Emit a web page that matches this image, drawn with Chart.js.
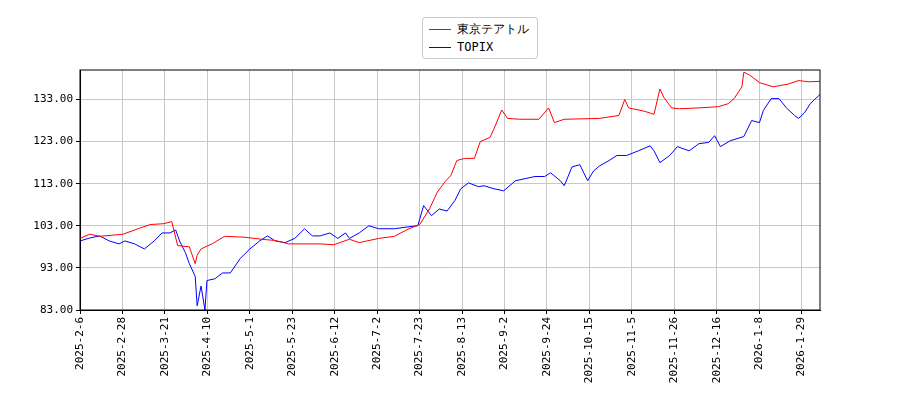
<!DOCTYPE html>
<html><head><meta charset="utf-8">
<script src="https://cdn.jsdelivr.net/npm/chart.js@4/dist/chart.umd.min.js"></script>
<style>
body{margin:0;background:#fff;}
#wrap{position:relative;width:900px;height:400px;}
#legend{position:absolute;left:422px;top:17px;border:1px solid #ccc;border-radius:3px;padding:2px 8px 2px 6px;font:12px "DejaVu Sans Mono",monospace;line-height:18px;background:#fff;}
#legend span.l{display:inline-block;width:22px;height:0;border-top:1.5px solid;vertical-align:middle;margin-right:6px;}
</style></head>
<body><div id="wrap"><canvas id="c" width="900" height="400"></canvas>
<div id="legend"><div><span class="l" style="border-color:#f00"></span>東京テアトル</div><div><span class="l" style="border-color:#00f"></span>TOPIX</div></div></div>
<script>
// x in calendar-ish units from 2025-2-6
const xTickLabels = ['2025-2-6','2025-2-28','2025-3-21','2025-4-10','2025-5-1','2025-5-23','2025-6-12','2025-7-2','2025-7-23','2025-8-13','2025-9-2','2025-9-24','2025-10-15','2025-11-5','2025-11-26','2025-12-16','2026-1-8','2026-1-29'];
const yTicks = [83, 93, 103, 113, 123, 133];

const theatreX = [0,5,10,22,31,36,43,47,50,56,59,60,62,68,74,84,93,100,107,123,130,138,143,153,161,168,174,179,183,187,190,193,197,202,205,210,212,216,219,225,235,240,243,248,266,276,279,281,289,294,297,299,303,307,317,327,332,335,339,340,343,348,355,363,368,373,379];
const theatreY = [100,101,100.5,101,102.5,103.3,103.5,104,98.3,98,94,96,97.5,98.8,100.5,100.3,99.8,99.5,98.7,98.7,98.5,99.8,99,100,100.5,102.2,103.3,107,111,113.5,115,118.5,119,119,123,124,126,130.5,128.5,128.3,128.3,131,127.5,128.3,128.5,129.2,133,131,130.2,129.5,135.5,133.5,131,130.8,131,131.3,132,133.2,136,139.5,138.8,137,136,136.7,137.5,137.2,137.3];

const topixX = [0,5,10,15,20,23,28,33,38,42,46,49,51,54,56,59,60,62,64,65,69,73,77,82,87,92,96,100,105,110,115,119,123,128,132,136,138,143,148,153,161,169,173,176,180,184,188,192,195,199,204,207,212,217,223,228,233,238,241,246,248,252,256,260,263,266,271,275,280,286,292,294,297,302,306,312,317,322,325,328,333,340,344,348,350,354,358,362,366,368,371,374,379];
const topixY = [99.4,100.1,100.6,99.4,98.7,99.4,98.7,97.5,99.4,101.3,101.3,102,99.4,96.6,94,91,84,88.7,83,90,90.4,91.8,91.8,95.2,97.5,99.4,100.6,99.4,99,100,102.3,100.6,100.6,101.3,100,101.3,100,101.3,103,102.3,102.3,102.8,103,107.8,105.4,107,106.5,109,111.8,113.2,112.3,112.5,111.8,111.3,113.7,114.2,114.7,114.7,115.6,113.7,112.5,117,117.5,113.7,116,117.2,118.5,119.7,119.7,120.8,122,120.8,118,119.7,121.8,120.8,122.5,122.8,124.4,121.8,123.2,124.2,128,127.5,130.4,133.2,133.2,130.9,129.2,128.5,129.8,132,134.2];

const tickStep = 21.74;
const pts = (xs, ys) => xs.map((x, i) => ({ x: x, y: ys[i] }));
const font = { family: 'DejaVu Sans Mono', size: 11 };

new Chart(document.getElementById('c'), {
    type: 'line',
    data: {
        datasets: [
            { label: '東京テアトル', data: pts(theatreX, theatreY), borderColor: '#f00', borderWidth: 1, pointRadius: 0, tension: 0 },
            { label: 'TOPIX', data: pts(topixX, topixY), borderColor: '#00f', borderWidth: 1, pointRadius: 0, tension: 0 }
        ]
    },
    options: {
        responsive: false,
        animation: false,
        layout: { padding: { top: 70, right: 80 } },
        plugins: { legend: { display: false }, tooltip: { enabled: false } },
        scales: {
            x: {
                type: 'linear', min: 0, max: 379,
                afterBuildTicks: ax => { ax.ticks = xTickLabels.map((l, i) => ({ value: i * tickStep })); },
                afterFit: ax => { ax.height = 90; },
                ticks: { color: '#000', font: font, maxRotation: 90, minRotation: 90, autoSkip: false,
                    callback: (v, i) => xTickLabels[i] },
                grid: { color: '#c8c8c8', drawTicks: true, tickLength: 4, tickColor: '#000' },
                border: { color: '#000' }
            },
            y: {
                min: 83, max: 140,
                afterBuildTicks: ax => { ax.ticks = yTicks.map(v => ({ value: v })); },
                afterFit: ax => { ax.width = 80; },
                ticks: { color: '#000', font: font, callback: v => v.toFixed(2) },
                grid: { color: '#c8c8c8', tickLength: 4, tickColor: '#000' },
                border: { color: '#000' }
            }
        }
    },
    plugins: [{
        id: 'frame',
        afterDraw: ch => {
            const a = ch.chartArea, c = ch.ctx;
            c.save(); c.strokeStyle = '#000'; c.lineWidth = 1;
            c.strokeRect(a.left, a.top, a.right - a.left, a.bottom - a.top);
            c.restore();
        }
    }]
});
</script></body></html>
